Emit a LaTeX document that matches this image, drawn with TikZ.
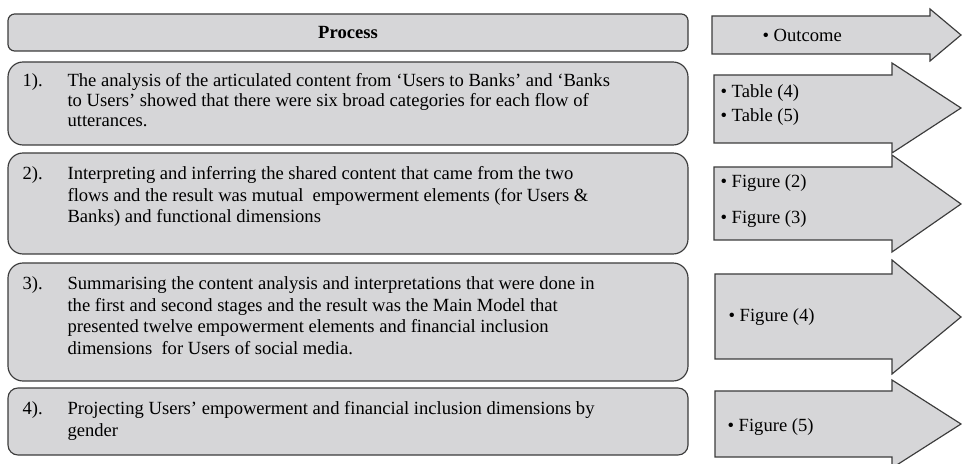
\documentclass[tikz,border=0pt]{standalone}
\usepackage{fontspec}
\setmainfont{Liberation Serif}
\definecolor{panel}{RGB}{214,214,216}
\definecolor{rim}{RGB}{60,60,60}
\begin{document}
\begin{tikzpicture}[x=0.6pt, y=-0.6pt,
                    line width=0.7pt,
                    font=\fontsize{11.15}{13}\selectfont]
    \tikzstyle{stage}=[draw=rim, fill=panel, rounded corners=9pt]
    \tikzstyle{head}=[stage, rounded corners=4pt]
    \tikzstyle{outarrow}=[draw=rim, fill=panel, line join=miter]
    \tikzstyle{num}=[anchor=north west, inner sep=0pt]
    \tikzstyle{txt}=[num, align=left]
    \tikzstyle{item}=[anchor=west, inner sep=0pt]

    \useasboundingbox (0,0) rectangle (962,464);

    % process column
    \draw[head]  (8,14)  rectangle (688,51);
    \draw[stage] (8,62)  rectangle (688,145);
    \draw[stage] (8,153) rectangle (688,254);
    \draw[stage] (8,263) rectangle (688,381);
    \draw[stage, rounded corners=6pt] (8,388) rectangle (688,455);

    \node[font=\fontsize{11.15}{13}\selectfont\bfseries] (process) at (348,33) {Process};

    \node[num] (n1) at (22,73) {1).};
    \node[txt, font=\fontsize{11.15}{12}\selectfont] (t1) at (67,73)
        {The analysis of the articulated content from `Users to Banks' and `Banks\\
         to Users' showed that there were six broad categories for each flow of\\
         utterances.};
    \node[num] (n2) at (22,166) {2).};
    \node[txt] (t2) at (67,166)
        {Interpreting and inferring the shared content that came from the two\\
         flows and the result was mutual\ \ empowerment elements (for Users \&\\
         Banks) and functional dimensions};
    \node[num] (n3) at (22,276) {3).};
    \node[txt] (t3) at (67,276)
        {Summarising the content analysis and interpretations that were done in\\
         the first and second stages and the result was the Main Model that\\
         presented twelve empowerment elements and financial inclusion\\
         dimensions\ \ for Users of social media.};
    \node[num] (n4) at (22,401) {4).};
    \node[txt] (t4) at (67,401)
        {Projecting Users' empowerment and financial inclusion dimensions by\\
         gender};

    % outcome arrows
    \draw[outarrow] (712,16) -- (930,16) -- (930,9) -- (961,35) -- (930,61) -- (930,54) -- (712,54) -- cycle;
    \draw[outarrow] (714,75) -- (892,75) -- (892,63) -- (961,108) -- (892,153) -- (892,143) -- (714,143) -- cycle;
    \draw[outarrow] (714,167) -- (892,167) -- (892,155) -- (961,204) -- (892,252) -- (892,240) -- (714,240) -- cycle;
    \draw[outarrow] (715,274) -- (892,274) -- (892,260) -- (961,317) -- (892,374) -- (892,359) -- (715,359) -- cycle;
    \draw[outarrow] (715,391) -- (892,391) -- (892,380) -- (961,424) -- (892,468) -- (892,457) -- (715,457) -- cycle;

    \node[item] (outcome) at (762,35)  {\textbullet{} Outcome};
    \node[item] (table4)  at (720,93)  {\textbullet{} Table (4)};
    \node[item] (table5)  at (720,117) {\textbullet{} Table (5)};
    \node[item] (figure2) at (720,183) {\textbullet{} Figure (2)};
    \node[item] (figure3) at (720,219) {\textbullet{} Figure (3)};
    \node[item] (figure4) at (728,317) {\textbullet{} Figure (4)};
    \node[item] (figure5) at (727,427) {\textbullet{} Figure (5)};
\end{tikzpicture}
\end{document}
